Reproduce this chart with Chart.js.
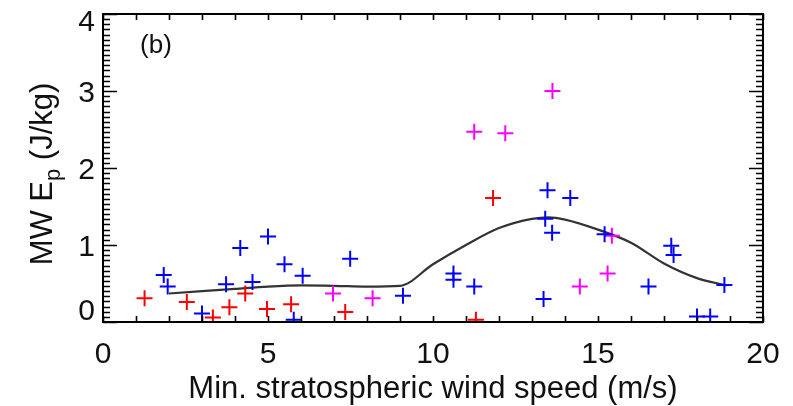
<!DOCTYPE html>
<html>
<head>
<meta charset="utf-8">
<script src="https://cdn.jsdelivr.net/npm/chart.js@4.4.1/dist/chart.umd.min.js"></script>
<style>
  html, body { margin: 0; padding: 0; background: #fff; }
  #wrap { width: 793px; height: 406px; position: relative; }
</style>
</head>
<body>
<div id="wrap"><canvas id="chart"></canvas></div>
<script>
const redX = [1.26, 2.54, 3.33, 3.83, 4.31, 4.97, 5.70, 7.34, 11.30, 11.82];
const redY = [0.31, 0.26, 0.06, 0.19, 0.37, 0.17, 0.23, 0.13, 0.03, 1.61];

const blueX = [1.84, 1.96, 3.00, 3.73, 4.16, 4.53, 5.00, 5.50, 5.78, 6.05, 7.49, 9.09, 10.62, 10.62, 11.25,
  13.35, 13.40, 13.47, 13.61, 14.16, 15.20, 16.53, 17.22, 17.29, 18.00, 18.40, 18.83];
const blueY = [0.61, 0.46, 0.11, 0.49, 0.96, 0.52, 1.11, 0.75, 0.03, 0.60, 0.82, 0.34, 0.63, 0.55, 0.46,
  0.30, 1.34, 1.71, 1.16, 1.61, 1.14, 0.46, 0.99, 0.87, 0.07, 0.07, 0.48];

const magentaX = [6.97, 8.17, 11.25, 12.19, 13.62, 14.45, 15.29, 15.42];
const magentaY = [0.37, 0.31, 2.47, 2.45, 3.00, 0.46, 0.63, 1.12];

const curveX = [2.0, 3.0, 4.0, 5.0, 6.0, 7.0, 8.0, 9.0, 10.0, 11.0, 12.0, 13.0, 13.5, 14.0, 15.0, 16.0, 17.0, 18.0, 18.9];
const curveY = [0.37, 0.40, 0.43, 0.46, 0.475, 0.47, 0.46, 0.47, 0.75, 1.00, 1.22, 1.34, 1.36, 1.33, 1.20, 1.03, 0.76, 0.57, 0.475];

const xTickLabels = [0, 5, 10, 15, 20];
const yTickLabels = [0, 1, 2, 3, 4];

const panelLabel = "(b)";
const xTitle = "Min. stratospheric wind speed (m/s)";

const FONT = "'Liberation Sans', Arial, Helvetica, sans-serif";

function pts(xs, ys){
  return xs.map((x, i) => ({x: x, y: ys[i]}));
}

function crossSet(label, xs, ys, color){
  return {
    type: "scatter", label: label, data: pts(xs, ys),
    pointStyle: "cross", pointRadius: 8, pointBorderWidth: 2,
    borderColor: color, backgroundColor: color, clip: 0, order: 1
  };
}

// IDL-style frame, inward ticks, labels and titles
const idlAxes = {
  id: "idlAxes",
  afterDraw(chart){
    const ctx = chart.ctx;
    const a = chart.chartArea;
    const sx = chart.scales.x, sy = chart.scales.y;
    ctx.save();
    ctx.strokeStyle = "#000";
    ctx.lineWidth = 2;
    ctx.strokeRect(a.left, a.top, a.right - a.left, a.bottom - a.top);

    ctx.lineWidth = 1.6;
    ctx.beginPath();
    for(let v = 0; v <= 20; v++){
      const px = Math.round(sx.getPixelForValue(v)) + 0.5;
      ctx.moveTo(px, a.bottom); ctx.lineTo(px, a.bottom - 6);
      ctx.moveTo(px, a.top); ctx.lineTo(px, a.top + 6);
    }
    for(let k = 0; k <= 60; k++){
      const v = k / 15;
      const len = (k % 15 === 0) ? 14 : 7;
      const py = Math.round(sy.getPixelForValue(v)) + 0.5;
      ctx.moveTo(a.left, py); ctx.lineTo(a.left + len, py);
      ctx.moveTo(a.right, py); ctx.lineTo(a.right - len, py);
    }
    ctx.stroke();

    ctx.fillStyle = "#111";
    ctx.font = "30px " + FONT;
    ctx.textAlign = "center";
    ctx.textBaseline = "alphabetic";
    xTickLabels.forEach(v => {
      ctx.fillText(String(v), sx.getPixelForValue(v), 363);
    });
    ctx.textAlign = "right";
    yTickLabels.forEach(v => {
      let cy = sy.getPixelForValue(v);
      cy = Math.max(a.top + 6, Math.min(a.bottom - 13, cy));
      ctx.fillText(String(v), 95, cy + 10.5);
    });

    ctx.font = "31px " + FONT;
    ctx.textAlign = "center";
    ctx.fillText(xTitle, (a.left + a.right) / 2, 398);

    ctx.font = "26px " + FONT;
    ctx.textBaseline = "middle";
    ctx.fillText(panelLabel, 156, 46);

    // y title with subscript p
    ctx.textBaseline = "alphabetic";
    ctx.textAlign = "left";
    const big = "31px " + FONT, small = "22px " + FONT;
    ctx.font = big;
    const w1 = ctx.measureText("MW E").width;
    const w3 = ctx.measureText(" (J/kg)").width;
    ctx.font = small;
    const w2 = ctx.measureText("p").width;
    const total = w1 + w2 + w3;
    ctx.translate(51.5, 174 + total / 2);
    ctx.rotate(-Math.PI / 2);
    ctx.font = big;
    ctx.fillText("MW E", 0, 0);
    ctx.font = small;
    ctx.fillText("p", w1, 8);
    ctx.font = big;
    ctx.fillText(" (J/kg)", w1 + w2, 0);
    ctx.restore();
  }
};

new Chart(document.getElementById("chart"), {
  data: {
    datasets: [
      crossSet("red", redX, redY, "#ff0000"),
      crossSet("blue", blueX, blueY, "#0000ff"),
      crossSet("magenta", magentaX, magentaY, "#ff00ff"),
      {
        type: "line", label: "mean", data: pts(curveX, curveY),
        borderColor: "#333", borderWidth: 2.2, pointRadius: 0,
        cubicInterpolationMode: "monotone", fill: false, clip: 0, order: 2
      }
    ]
  },
  options: {
    responsive: true, maintainAspectRatio: false, animation: false,
    layout: {padding: {left: 103, right: 30, top: 14, bottom: 84}},
    plugins: {legend: {display: false}, tooltip: {enabled: false}},
    scales: {
      x: {type: "linear", min: 0, max: 20, display: false},
      y: {type: "linear", min: 0, max: 4, display: false}
    }
  },
  plugins: [idlAxes]
});
</script>
</body>
</html>
